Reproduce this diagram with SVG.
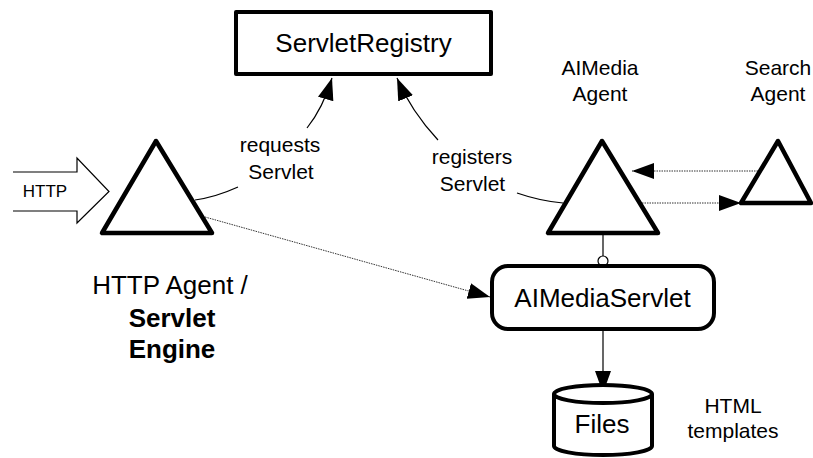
<svg xmlns="http://www.w3.org/2000/svg" width="813" height="458" viewBox="0 0 813 458">
  <style>
    text { font-family: "Liberation Sans", Arial, sans-serif; fill: #000; text-anchor: middle; }
    .big { font-size: 26px; }
    .lbl { font-size: 21px; }
    .bold { font-weight: bold; }
    .shape { fill: #fff; stroke: #000; stroke-width: 4; stroke-linejoin: round; }
    .agent { fill: none; stroke: #000; stroke-width: 4.5; stroke-linejoin: round; }
    .thin { fill: none; stroke: #000; stroke-width: 1.2; }
    .dotted { fill: none; stroke: #333; stroke-width: 1; stroke-dasharray: 1.5 1; }
  </style>
  <defs>
    <marker id="head" markerUnits="userSpaceOnUse" markerWidth="24" markerHeight="18" refX="22" refY="8" orient="auto">
      <path d="M0,0 L22,8 L0,16 Z" fill="#000"/>
    </marker>
  </defs>

  <rect width="813" height="458" fill="#fff"/>

  <!-- connectors -->
  <g id="connectors">
    <!-- HTTP input block arrow -->
    <path class="thin" d="M13,172 H77 V158 L109,191.5 L77,223 V211 H13"/>
    <!-- requests Servlet -->
    <path class="thin" d="M195,200 Q216,197 238,187"/>
    <path class="thin" d="M307,128 Q323,108 332,78" marker-end="url(#head)"/>
    <!-- registers Servlet -->
    <path class="thin" d="M517,193 Q540,201 563,203"/>
    <path class="thin" d="M438,140 Q411,111 397,78" marker-end="url(#head)"/>
    <!-- engine to servlet -->
    <path class="dotted" d="M205,217 L490,297" marker-end="url(#head)"/>
    <!-- agent messages -->
    <path class="dotted" d="M758,171 H632" marker-end="url(#head)"/>
    <path class="dotted" d="M642,203 H741" marker-end="url(#head)"/>
    <!-- agent provides servlet -->
    <path class="thin" d="M603,234 V256"/>
    <circle cx="603" cy="261" r="5" fill="#fff" stroke="#000" stroke-width="1.2"/>
    <!-- servlet reads files -->
    <path class="thin" d="M603,330 V393" marker-end="url(#head)"/>
  </g>

  <!-- HTTP label -->
  <text x="45" y="197" style="font-size:17px">HTTP</text>

  <g id="servlet-registry">
    <rect class="shape" x="236" y="12" width="255" height="62"/>
    <text class="big" x="363.5" y="52">ServletRegistry</text>
  </g>

  <g id="http-agent">
    <polygon class="agent" points="156,141 102,233 212,233"/>
    <text class="big" x="170" y="294">HTTP Agent /</text>
    <text class="big bold" x="172" y="327">Servlet</text>
    <text class="big bold" x="172" y="358">Engine</text>
  </g>

  <g id="aimedia-agent">
    <polygon class="agent" points="602,141 548,233 658,233"/>
    <text class="lbl" x="600" y="75">AIMedia</text>
    <text class="lbl" x="600" y="101">Agent</text>
  </g>

  <g id="search-agent">
    <polygon class="agent" points="778,141 741,203 811,203"/>
    <text class="lbl" x="778" y="75">Search</text>
    <text class="lbl" x="778" y="101">Agent</text>
  </g>

  <g id="aimedia-servlet">
    <rect class="shape" x="492" y="266" width="222" height="63" rx="16"/>
    <text class="big" x="602.5" y="307">AIMediaServlet</text>
  </g>

  <g id="files">
    <path class="shape" d="M554,394 V446 A49,9 0 0 0 652,446 V394 A49,9 0 0 0 554,394 A49,9 0 0 0 652,394"/>
    <text class="big" x="602" y="433">Files</text>
  </g>

  <!-- edge and store labels -->
  <text class="lbl" x="280" y="152">requests</text>
  <text class="lbl" x="281" y="179">Servlet</text>
  <text class="lbl" x="472" y="164">registers</text>
  <text class="lbl" x="472.5" y="191">Servlet</text>
  <text class="lbl" x="733" y="413">HTML</text>
  <text class="lbl" x="733" y="438">templates</text>
</svg>
